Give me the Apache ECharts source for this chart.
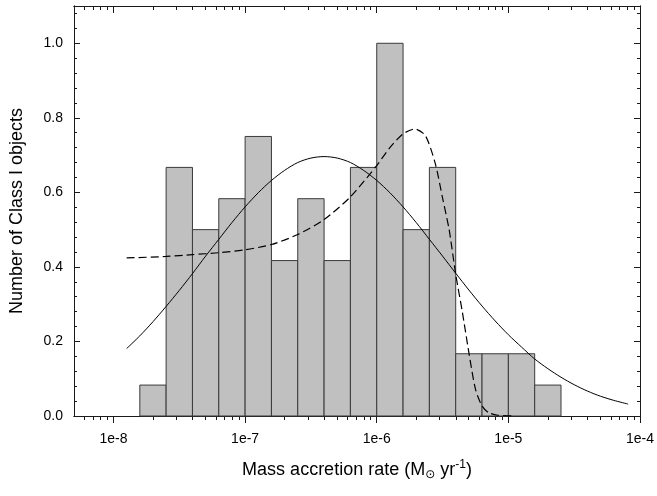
<!DOCTYPE html>
<html>
<head>
<meta charset="utf-8">
<script src="https://cdn.jsdelivr.net/npm/echarts@6/dist/echarts.min.js"></script>
<style>
  html, body { margin: 0; padding: 0; background: #fff; }
  #chart { width: 657px; height: 496px; }
</style>
</head>
<body>
<div id="chart"></div>
<script>
// histogram bins (log10 of left edge), bin width 0.2 dex
const binLeft = [-7.8, -7.6, -7.4, -7.2, -7.0, -6.8, -6.6, -6.4, -6.2, -6.0, -5.8, -5.6, -5.4, -5.2, -5.0, -4.8];
const binHeight = [0.083, 0.667, 0.5, 0.583, 0.75, 0.417, 0.583, 0.417, 0.667, 1.0, 0.5, 0.667, 0.167, 0.167, 0.167, 0.083];
const binWidth = 0.2;

// solid curve (log10 rate, value)
const solidX = [-7.9, -7.8, -7.7, -7.6, -7.5, -7.4, -7.3, -7.2, -7.1, -7.0, -6.9, -6.8, -6.7, -6.6, -6.5, -6.4,
  -6.3, -6.2, -6.1, -6.0, -5.9, -5.8, -5.7, -5.6, -5.5, -5.4, -5.3, -5.2, -5.1, -5.0, -4.9, -4.8, -4.7, -4.6,
  -4.5, -4.4, -4.3, -4.2, -4.09];
const solidY = [0.181, 0.215, 0.253, 0.294, 0.337, 0.382, 0.429, 0.474, 0.519, 0.561, 0.599, 0.632, 0.659, 0.680, 0.692, 0.696,
  0.692, 0.680, 0.659, 0.632, 0.599, 0.561, 0.519, 0.474, 0.429, 0.383, 0.338, 0.295, 0.255, 0.218, 0.185, 0.153, 0.127, 0.104,
  0.084, 0.067, 0.053, 0.042, 0.032];

// dashed curve
const dashX = [-7.9, -7.6, -7.4, -7.2, -7.0, -6.8, -6.6, -6.4, -6.2, -6.0, -5.9, -5.8, -5.71, -5.63, -5.555, -5.5,
  -5.45, -5.4, -5.35, -5.3, -5.25, -5.2, -5.15, -5.08, -4.95];
const dashY = [0.424, 0.428, 0.433, 0.438, 0.446, 0.460, 0.487, 0.527, 0.588, 0.672, 0.720, 0.757, 0.770, 0.752, 0.677, 0.585,
  0.500, 0.380, 0.280, 0.170, 0.072, 0.027, 0.009, 0.002, 0.0];

const xTickLogs = [-8, -7, -6, -5, -4];
const xTickLabels = ["1e-8", "1e-7", "1e-6", "1e-5", "1e-4"];
const yTicks = [0, 0.2, 0.4, 0.6, 0.8, 1.0];
const yTickLabels = ["0.0", "0.2", "0.4", "0.6", "0.8", "1.0"];

const X_MIN = -8.3, X_MAX = -4, Y_MIN = 0, Y_MAX = 1.1;
const FONT = "'Liberation Sans', Arial, sans-serif";

// minor tick positions: 2..9 within each decade, and every 0.04 on y
const xMinor = [];
for (let n = -9; n <= -5; n++) {
  for (let k = 2; k <= 9; k++) {
    const v = n + Math.log10(k);
    if (v > X_MIN && v < X_MAX) xMinor.push(v);
  }
}
const yMinor = [];
for (let i = 1; i <= 27; i++) {
  if (i % 5 !== 0) yMinor.push(+(i * 0.04).toFixed(2));
}

const chart = echarts.init(document.getElementById("chart"), null, { renderer: "canvas" });

const frameLine = { show: true, onZero: false, lineStyle: { color: "#1a1a1a", width: 1 } };
const tickStyle = { color: "#1a1a1a", width: 1 };

function xAxisFor(position, ticks, len, inside, withLabels) {
  return {
    type: "value",
    position,
    min: X_MIN,
    max: X_MAX,
    axisLine: frameLine,
    splitLine: { show: false },
    axisTick: { show: true, inside, length: len, lineStyle: tickStyle, customValues: ticks },
    axisLabel: withLabels
      ? {
          show: true,
          customValues: xTickLogs,
          margin: 16,
          color: "#000",
          fontFamily: FONT,
          fontSize: 14,
          formatter: (v) => xTickLabels[xTickLogs.indexOf(Math.round(v))] ?? "",
        }
      : { show: false, customValues: ticks },
  };
}

function yAxisFor(position, ticks, len, withLabels) {
  return {
    type: "value",
    position,
    min: Y_MIN,
    max: Y_MAX,
    axisLine: frameLine,
    splitLine: { show: false },
    axisTick: { show: true, inside: true, length: len, lineStyle: tickStyle, customValues: ticks },
    axisLabel: withLabels
      ? {
          show: true,
          customValues: yTicks,
          margin: 11,
          color: "#000",
          fontFamily: FONT,
          fontSize: 14,
          formatter: (v) => yTickLabels[yTicks.findIndex((t) => Math.abs(t - v) < 1e-6)] ?? "",
        }
      : { show: false, customValues: ticks },
  };
}

const xMain = xAxisFor("bottom", xTickLogs, 7, false, true);
xMain.name = "Mass accretion rate (M{sub|\u2299} yr{sup|-1})";
xMain.nameLocation = "middle";
xMain.nameGap = 43;
xMain.nameTextStyle = {
  color: "#000",
  fontFamily: FONT,
  fontSize: 18,
  rich: {
    sub: { fontSize: 12, fontFamily: "'DejaVu Sans', sans-serif", verticalAlign: "bottom", padding: [10, 0, 0, 0], color: "#000" },
    sup: { fontSize: 12, fontFamily: FONT, verticalAlign: "top", padding: [0, 0, 9, 0], color: "#000" },
  },
};

const yMain = yAxisFor("left", yTicks, 6, true);
yMain.name = "Number of Class I objects";
yMain.nameLocation = "middle";
yMain.nameGap = 48;
yMain.nameTextStyle = { color: "#000", fontFamily: FONT, fontSize: 18 };

chart.setOption({
  backgroundColor: "#fff",
  animation: false,
  grid: { left: 74, right: 16, top: 6, bottom: 80 },
  xAxis: [
    xMain,
    xAxisFor("bottom", xMinor, 4, false, false),
    xAxisFor("top", xTickLogs, 7, true, false),
    xAxisFor("top", xMinor, 4, true, false),
  ],
  yAxis: [
    yMain,
    yAxisFor("left", yMinor, 3, false),
    yAxisFor("right", yTicks, 6, false),
    yAxisFor("right", yMinor, 3, false),
  ],
  series: [
    {
      type: "custom",
      xAxisIndex: 0,
      yAxisIndex: 0,
      silent: true,
      data: binLeft.map((b, i) => [b, b + binWidth, binHeight[i]]),
      encode: { x: [0, 1], y: 2 },
      renderItem: (params, api) => {
        const p0 = api.coord([api.value(0), api.value(2)]);
        const p1 = api.coord([api.value(1), 0]);
        return {
          type: "rect",
          shape: { x: p0[0], y: p0[1], width: p1[0] - p0[0], height: p1[1] - p0[1] },
          style: { fill: "#c0c0c0", stroke: "#3a3a3a", lineWidth: 1 },
        };
      },
      z: 2,
    },
    {
      type: "line",
      xAxisIndex: 0,
      yAxisIndex: 0,
      data: solidX.map((x, i) => [x, solidY[i]]),
      showSymbol: false,
      smooth: 0.3,
      lineStyle: { color: "#000", width: 1 },
      silent: true,
      z: 3,
    },
    {
      type: "line",
      xAxisIndex: 0,
      yAxisIndex: 0,
      data: dashX.map((x, i) => [x, dashY[i]]),
      showSymbol: false,
      smooth: 0.25,
      lineStyle: { color: "#000", width: 1.2, type: [8, 4] },
      silent: true,
      z: 3,
    },
  ],
});
</script>
</body>
</html>
